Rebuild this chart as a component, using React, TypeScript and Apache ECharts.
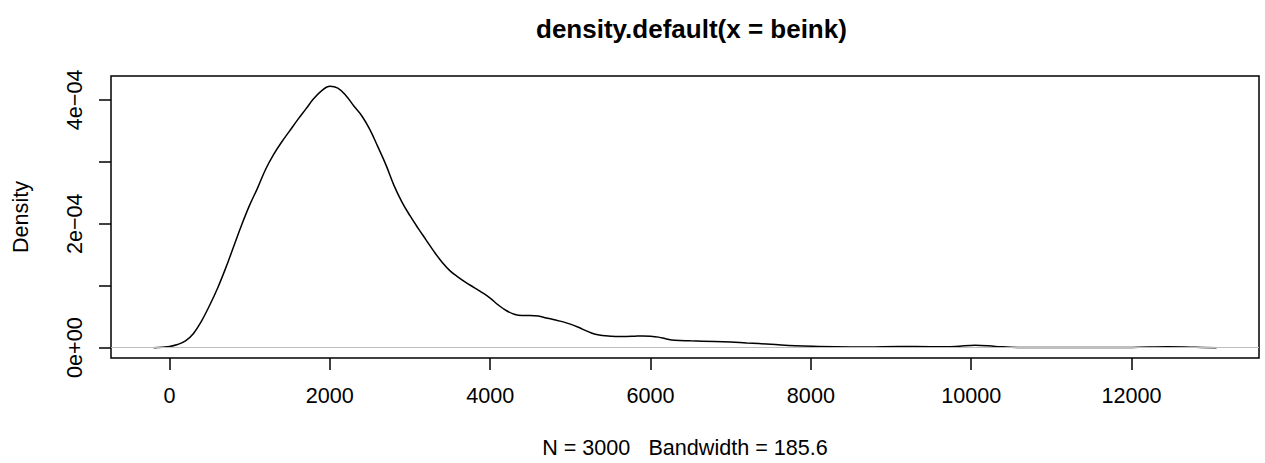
import React, { useEffect, useRef } from "react";
import * as echarts from "echarts";

const densityX = [
  -196, 0, 100, 200, 300, 400, 500, 600, 700, 800, 900, 1000, 1100, 1200, 1300, 1400, 1500,
  1600, 1700, 1800, 1900, 2000, 2100, 2200, 2300, 2400, 2500, 2600, 2700, 2800, 2900,
  3000, 3100, 3200, 3300, 3400, 3500, 3600, 3700, 3800, 3900, 4000, 4100, 4200, 4300,
  4400, 4500, 4600, 4700, 4800, 4900, 5000, 5100, 5200, 5300, 5400, 5500, 5600, 5700,
  5800, 5900, 6000, 6100, 6200, 6300, 6500, 6800, 7000, 7200, 7500, 7800, 8100, 8500,
  8700, 9100, 9500, 9800, 10050, 10300, 10600, 11000, 11500, 12000, 12450, 12800, 13059,
];
// density in units of 1e-4
const densityY = [
  0, 0.02, 0.05, 0.11, 0.23, 0.43, 0.68, 0.96, 1.28, 1.63, 1.98, 2.3, 2.58, 2.88, 3.12, 3.32, 3.5,
  3.68, 3.85, 4.02, 4.15, 4.22, 4.19, 4.07, 3.9, 3.74, 3.52, 3.24, 2.95, 2.62, 2.35,
  2.13, 1.93, 1.74, 1.55, 1.38, 1.24, 1.14, 1.05, 0.97, 0.89, 0.8, 0.69, 0.6, 0.54,
  0.52, 0.52, 0.51, 0.48, 0.45, 0.42, 0.38, 0.33, 0.27, 0.22, 0.195, 0.185, 0.18, 0.18,
  0.185, 0.19, 0.185, 0.17, 0.14, 0.12, 0.11, 0.1, 0.09, 0.075, 0.055, 0.03, 0.02, 0.012,
  0.01, 0.02, 0.015, 0.02, 0.04, 0.02, 0.003, 0.002, 0.002, 0.003, 0.015, 0.005, 0,
];

const xTicks = [0, 2000, 4000, 6000, 8000, 10000, 12000];
const yTicks = [0, 1e-4, 2e-4, 3e-4, 4e-4];
const yLabelValues = [0, 2e-4, 4e-4];
const yLabelTexts = ["0e+00", "2e\u221204", "4e\u221204"];

const titleText = "density.default(x = beink)";
const xName = "N = 3000   Bandwidth = 185.6";
const yName = "Density";

const FONT = "'Liberation Sans', Arial, Helvetica, sans-serif";

export default function App() {
  const ref = useRef<HTMLDivElement>(null);
  useEffect(() => {
    if (!ref.current) return;
    const chart = echarts.init(ref.current, null, { renderer: "svg" });
    const data = densityX.map((x, i) => [x, densityY[i] * 1e-4]);
    chart.setOption({
      animation: false,
      backgroundColor: "#ffffff",
      title: {
        text: titleText,
        left: 531,
        top: 11,
        textStyle: { fontFamily: FONT, fontSize: 26, fontWeight: "bold", color: "#000" },
      },
      grid: {
        left: 111,
        right: 6,
        top: 76,
        bottom: 104,
        show: true,
        borderColor: "#000",
        borderWidth: 1.5,
        backgroundColor: "transparent",
      },
      xAxis: {
        type: "value",
        min: -729,
        max: 13589,
        name: xName,
        nameLocation: "middle",
        nameGap: 78,
        nameTextStyle: { fontFamily: FONT, fontSize: 21.6, color: "#000" },
        axisLine: { show: false, onZero: false },
        splitLine: { show: false },
        axisTick: {
          show: true,
          inside: false,
          length: 12,
          customValues: xTicks,
          lineStyle: { color: "#000", width: 1.5 },
        },
        axisLabel: {
          show: true,
          margin: 26,
          customValues: xTicks,
          fontFamily: FONT,
          fontSize: 21.6,
          color: "#000",
          formatter: (v: number) => String(v),
        },
      },
      yAxis: {
        type: "value",
        min: -1.67e-5,
        max: 4.385e-4,
        name: yName,
        nameLocation: "middle",
        nameGap: 80,
        nameRotate: 90,
        nameTextStyle: { fontFamily: FONT, fontSize: 21.6, color: "#000" },
        axisLine: { show: false, onZero: false },
        splitLine: { show: false },
        axisTick: {
          show: true,
          inside: false,
          length: 12,
          customValues: yTicks,
          lineStyle: { color: "#000", width: 1.5 },
        },
        axisLabel: {
          show: true,
          rotate: 90,
          margin: 26,
          customValues: yLabelValues,
          fontFamily: FONT,
          fontSize: 21.6,
          color: "#000",
          formatter: (v: number) => {
            const idx = yLabelValues.findIndex((t) => Math.abs(t - v) < 1e-9);
            return idx >= 0 ? yLabelTexts[idx] : "";
          },
        },
      },
      series: [
        {
          type: "line",
          data,
          showSymbol: false,
          smooth: 0.4,
          lineStyle: { color: "#000", width: 1.5 },
          silent: true,
          markLine: {
            silent: true,
            symbol: "none",
            label: { show: false },
            lineStyle: { color: "#BEBEBE", width: 1.2, type: "solid" },
            data: [{ yAxis: 0 }],
          },
        },
      ],
    });
    return () => chart.dispose();
  }, []);
  return (
    <div
      ref={ref}
      style={{ position: "fixed", left: 0, top: 0, width: 1265, height: 463, background: "#fff" }}
    />
  );
}
